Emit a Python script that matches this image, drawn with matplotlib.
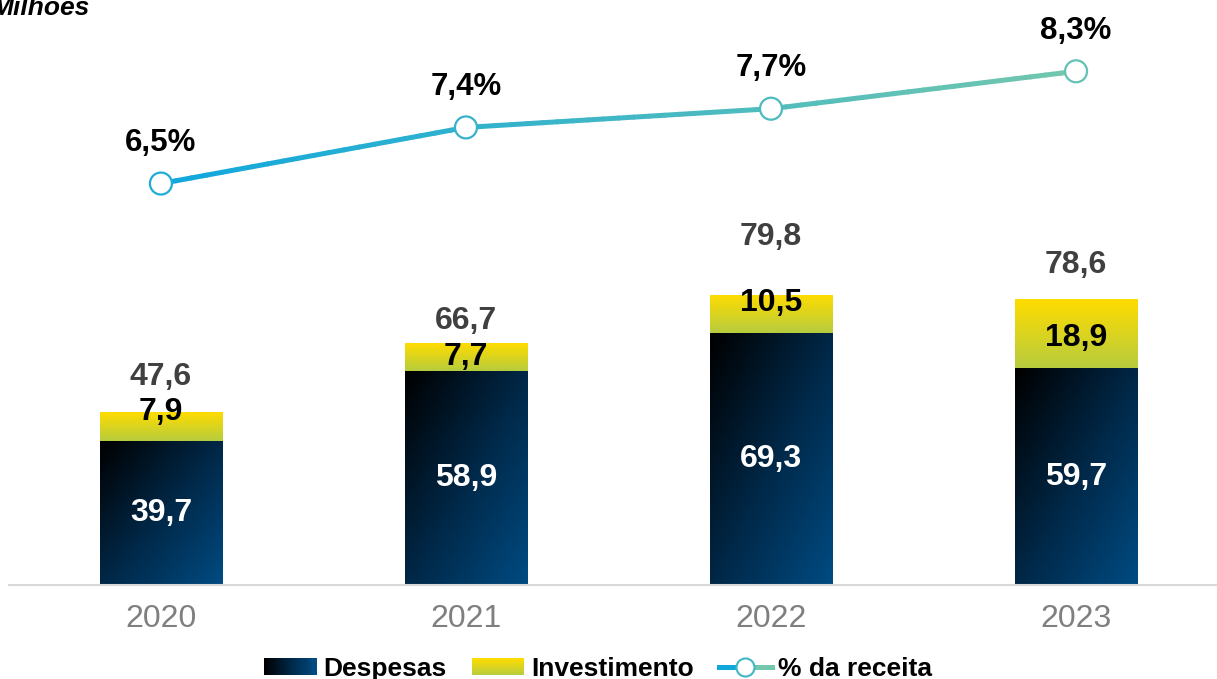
import numpy as np
import matplotlib.pyplot as plt
from matplotlib.colors import LinearSegmentedColormap, to_rgb
from matplotlib.collections import LineCollection
from matplotlib.patches import Rectangle
from matplotlib.lines import Line2D
from matplotlib.legend_handler import HandlerBase

plt.rcParams['font.family'] = ['Liberation Sans', 'DejaVu Sans']

# Data
years = ['2020', '2021', '2022', '2023']
despesas = [39.7, 58.9, 69.3, 59.7]
investimento = [7.9, 7.7, 10.5, 18.9]
totais = [47.6, 66.7, 79.8, 78.6]
pct_receita = [6.5, 7.4, 7.7, 8.3]

# Colours
DESP_CMAP = LinearSegmentedColormap.from_list('desp', ['#000000', '#002746', '#004b82'])
INV_CMAP = LinearSegmentedColormap.from_list('inv', ['#b7cc3e', '#ffdc00'])
LINE_A, LINE_B = '#10a7dd', '#72c7ad'


def mix(c1, c2, t):
    a, b = np.array(to_rgb(c1)), np.array(to_rgb(c2))
    return tuple(a + (b - a) * t)


def gradient_bar(ax, x, bottom, height, width, kind):
    """Draw a bar filled with an image gradient clipped to its rectangle."""
    rect = Rectangle((x - width / 2, bottom), width, height, fc='none', ec='none')
    ax.add_patch(rect)
    n = 64
    u = np.linspace(0, 1, n)[None, :]
    v = np.linspace(0, 1, n)[:, None]  # 0 = top row of image
    if kind == 'desp':
        img = DESP_CMAP((u + v) / 2)
    else:
        img = INV_CMAP(np.repeat(1 - v, n, axis=1))
    im = ax.imshow(img, extent=[x - width / 2, x + width / 2, bottom, bottom + height],
                   aspect='auto', origin='upper', interpolation='bilinear', zorder=2)
    im.set_clip_path(rect)


class GradPatchHandler(HandlerBase):
    def __init__(self, kind):
        super().__init__()
        self.kind = kind

    def create_artists(self, legend, orig_handle, xdescent, ydescent, width, height,
                       fontsize, trans):
        arts = []
        n = 24
        for i in range(n):
            t = i / (n - 1)
            if self.kind == 'desp':
                r = Rectangle((-xdescent + width * i / n, -ydescent), width / n + 0.3, height,
                              fc=DESP_CMAP(t), ec='none', transform=trans)
            else:
                r = Rectangle((-xdescent, -ydescent + height * i / n), width, height / n + 0.3,
                              fc=INV_CMAP(t), ec='none', transform=trans)
            arts.append(r)
        return arts


class GradLineHandler(HandlerBase):
    def create_artists(self, legend, orig_handle, xdescent, ydescent, width, height,
                       fontsize, trans):
        y = -ydescent + height / 2
        x0, x1 = -xdescent, -xdescent + width
        xm = (x0 + x1) / 2
        left = Line2D([x0, xm], [y, y], color=LINE_A, lw=3.6, transform=trans)
        right = Line2D([xm, x1], [y, y], color=LINE_B, lw=3.6, transform=trans)
        mk = Line2D([xm], [y], marker='o', ms=13, mfc='white',
                    mec=mix(LINE_A, LINE_B, 0.5), mew=1.5, ls='none', transform=trans)
        return [left, right, mk]


fig = plt.figure(figsize=(12.17, 6.79), dpi=100)
ax = fig.add_axes([9 / 1217, 94 / 679, 1208 / 1217, 575 / 679])
ax2 = ax.twinx()

x = np.arange(len(years))
width = 0.4

for i in range(len(years)):
    gradient_bar(ax, x[i], 0, despesas[i], width, 'desp')
    gradient_bar(ax, x[i], despesas[i], investimento[i], width, 'inv')

ax.set_xlim(-0.498, 3.462)
ax.set_ylim(0, 158.2)

# value labels
total_off = [35, 22, 58, 34]   # px above top
inv_off = [14, 0, 11, -4]      # px above segment centre
for i in range(len(years)):
    ax.annotate(f'{despesas[i]:.1f}'.replace('.', ','), (x[i], despesas[i] / 2),
                ha='center', va='center', color='white', fontsize=23, fontweight='bold',
                zorder=5)
    ax.annotate(f'{investimento[i]:.1f}'.replace('.', ','),
                (x[i], despesas[i] + investimento[i] / 2),
                xytext=(0, inv_off[i] * 0.72), textcoords='offset points',
                ha='center', va='center', color='black', fontsize=23, fontweight='bold',
                zorder=5)
    ax.annotate(f'{totais[i]:.1f}'.replace('.', ','), (x[i], totais[i]),
                xytext=(0, total_off[i] * 0.72), textcoords='offset points',
                ha='center', va='center', color='#404040', fontsize=23, fontweight='bold',
                zorder=5)

# axis styling
for s in ['top', 'right', 'left']:
    ax.spines[s].set_visible(False)
ax.spines['bottom'].set_color('#d9d9d9')
ax.spines['bottom'].set_linewidth(1.5)
ax.set_yticks([])
ax.set_xticks(x)
ax.set_xticklabels(years, fontsize=23, color='#7f7f7f')
ax.tick_params(axis='x', length=0, pad=14)

# percentage line (secondary axis)
ax2.set_ylim(0.062, 9.283)
n = 20
segs, cols = [], []
for i in range(len(years) - 1):
    xs = np.linspace(x[i], x[i + 1], n + 1)
    ys = np.linspace(pct_receita[i], pct_receita[i + 1], n + 1)
    for j in range(n):
        segs.append([(xs[j], ys[j]), (xs[j + 1], ys[j + 1])])
        cols.append(mix(LINE_A, LINE_B, (i * n + j) / (3 * n - 1)))
ax2.add_collection(LineCollection(segs, colors=cols, linewidths=3.6, capstyle='round',
                                  zorder=3))
edge_cols = [mix(LINE_A, LINE_B, 0.15 + 0.7 * i / 3) for i in range(len(years))]
ax2.scatter(x, pct_receita, s=250, facecolor='white', edgecolor=edge_cols,
            linewidths=1.6, zorder=4)
for i in range(len(years)):
    ax2.annotate(f'{pct_receita[i]:.1f}%'.replace('.', ','), (x[i], pct_receita[i]),
                 xytext=(0, 29), textcoords='offset points', ha='center', va='center',
                 fontsize=22.5, fontweight='bold', color='black')
for s in ax2.spines.values():
    s.set_visible(False)
ax2.set_yticks([])

# unit label
fig.text(-8 / 1217, 1 - 15 / 679, 'Milhões', fontsize=19, fontweight='bold',
         fontstyle='italic', ha='left', va='baseline')

# legend
h_desp = Rectangle((0, 0), 1, 1)
h_inv = Rectangle((0, 0), 1, 1)
h_line = Line2D([], [])
leg = fig.legend([h_desp, h_inv, h_line], ['Despesas', 'Investimento', '% da receita'],
                 handler_map={h_desp: GradPatchHandler('desp'), h_inv: GradPatchHandler('inv'),
                              h_line: GradLineHandler()},
                 loc='center', bbox_to_anchor=(598 / 1217, 1 - 669 / 679), ncol=3,
                 frameon=False, prop={'weight': 'bold', 'size': 19},
                 handlelength=2.0, handleheight=0.6, handletextpad=0.25,
                 columnspacing=0.95, borderpad=0, borderaxespad=0)

fig.savefig('out.png', dpi=100)
